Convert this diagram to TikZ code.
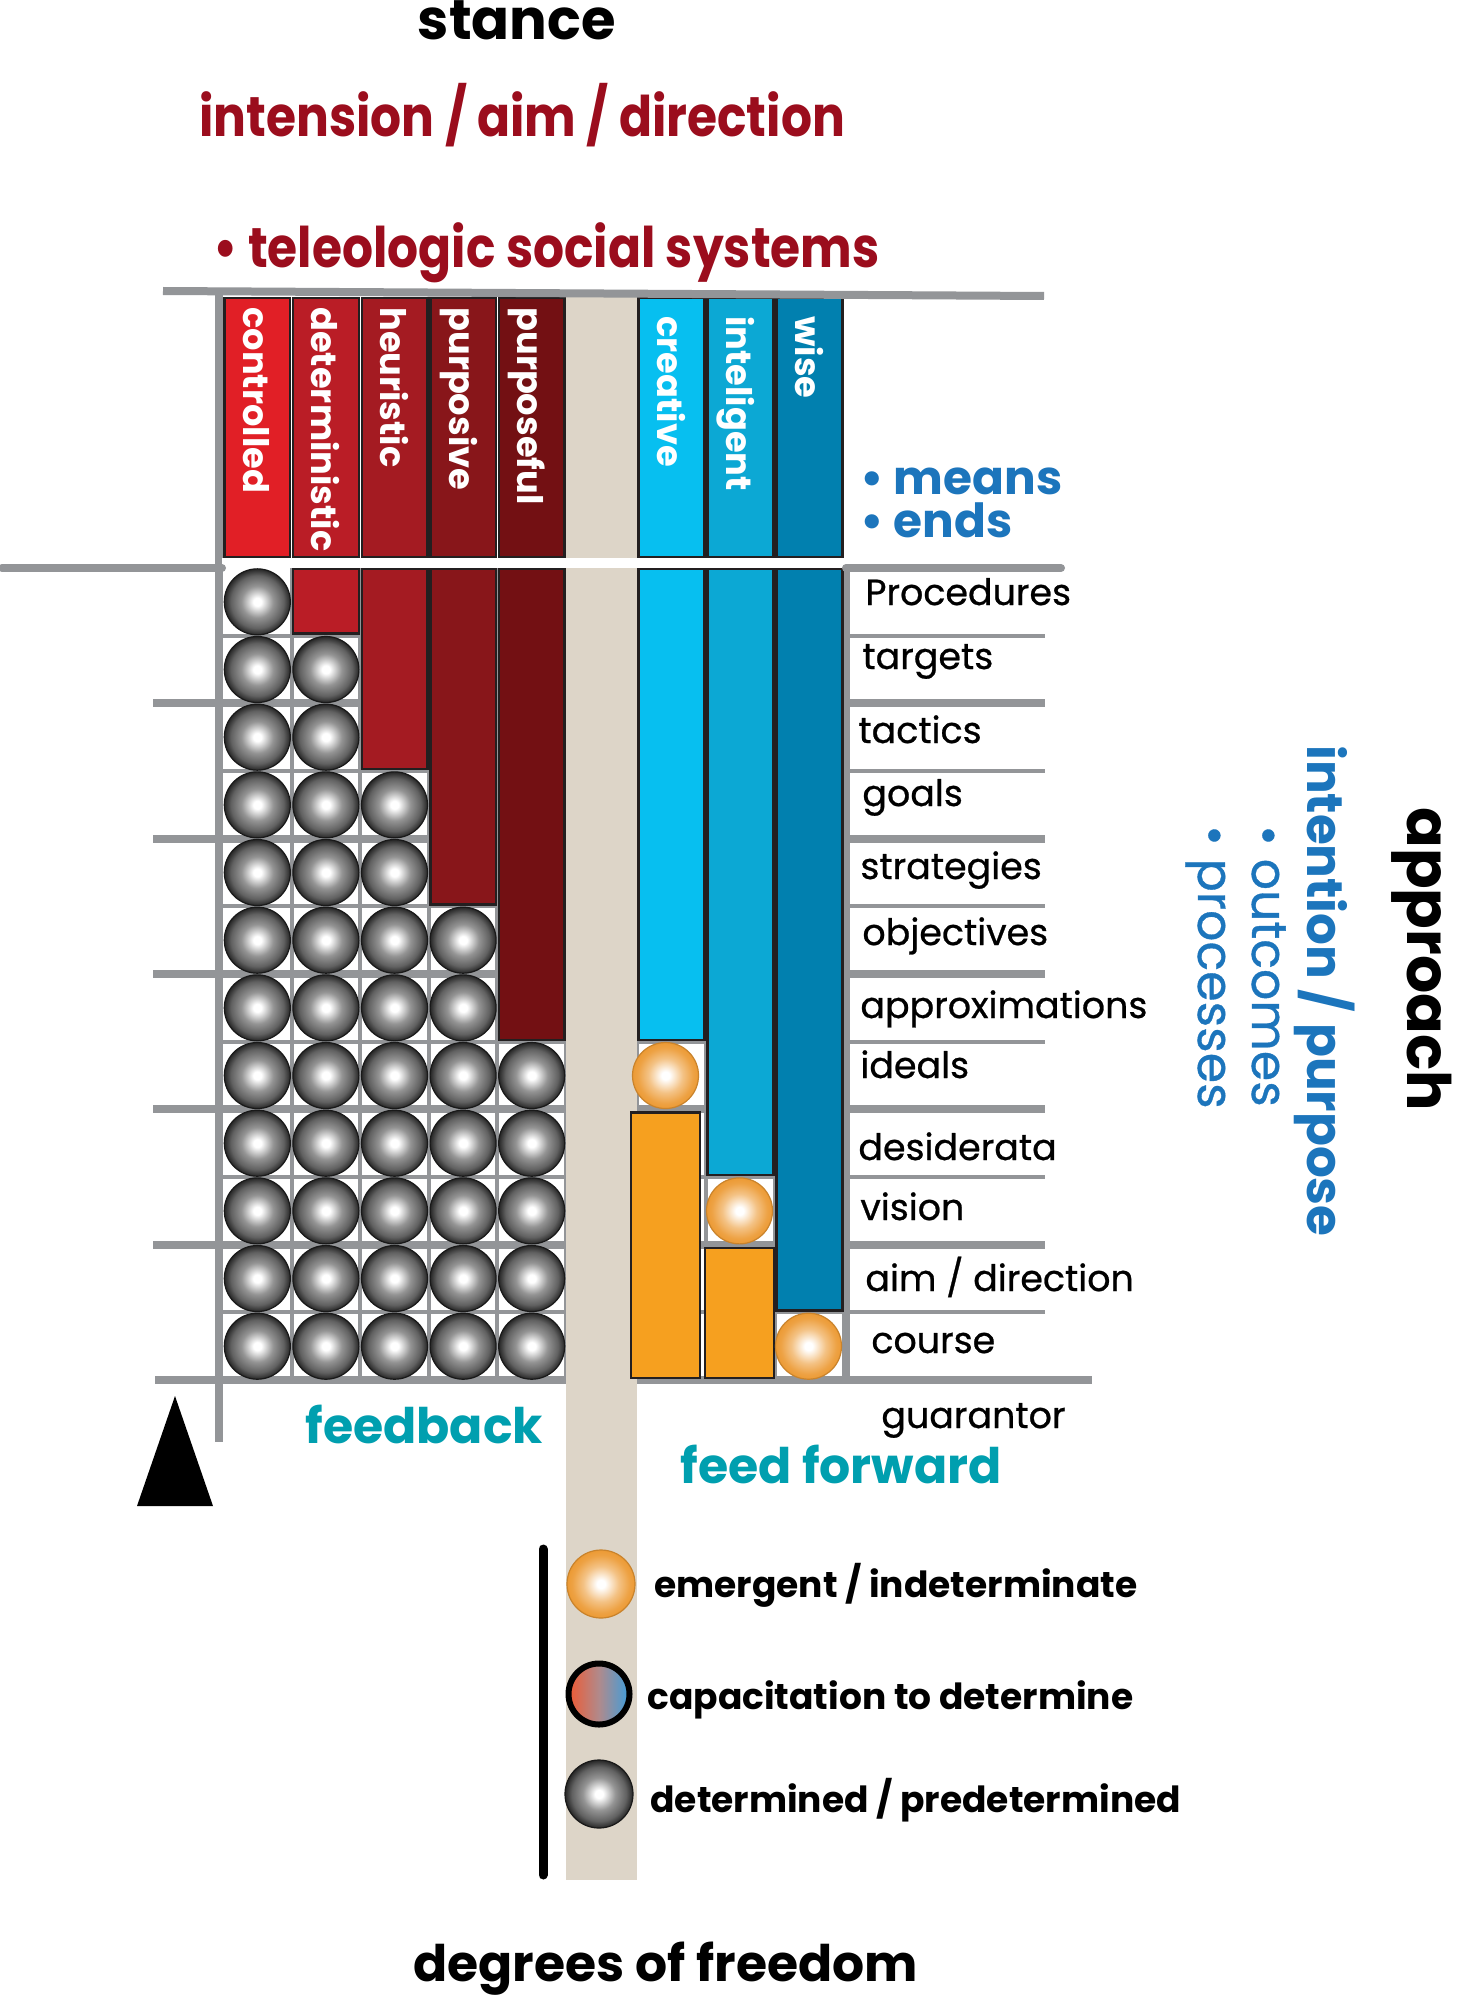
\documentclass[tikz,border=0pt]{standalone}
\usepackage{fontspec}
\setmainfont{Poppins}
\newfontfamily\condfont[FakeStretch=0.87]{Poppins}
\newfontfamily\medfont[FakeBold=0.7]{Poppins}
\usetikzlibrary{positioning}

\definecolor{gridgray}{HTML}{939598}
\definecolor{barline}{HTML}{231F20}
\definecolor{beige}{HTML}{DDD5C8}
\definecolor{redA}{HTML}{E11F26}
\definecolor{redB}{HTML}{BA1D26}
\definecolor{redC}{HTML}{A41B22}
\definecolor{redD}{HTML}{88161A}
\definecolor{redE}{HTML}{731013}
\definecolor{blueA}{HTML}{07BFF0}
\definecolor{blueB}{HTML}{0CA8D4}
\definecolor{blueC}{HTML}{0180AF}
\definecolor{barorange}{HTML}{F6A01F}
\definecolor{ballorange}{HTML}{EC9A34}
\definecolor{titlered}{HTML}{9B0D1D}
\definecolor{fbteal}{HTML}{009FAF}
\definecolor{textblue}{HTML}{1C75BC}
\definecolor{capred}{HTML}{EF5A33}
\definecolor{capmid}{HTML}{B08A8C}
\definecolor{capblue}{HTML}{3D9EDC}

\pgfdeclareradialshading{greyshade}{\pgfpointorigin}{color(0bp)=(white); color(3bp)=(white); color(12bp)=(black!42); color(20bp)=(black!62); color(25bp)=(black!85); color(50bp)=(black!85)}
\pgfdeclareradialshading{orangeshade}{\pgfpointorigin}{color(0bp)=(white); color(3bp)=(white); color(13bp)=(ballorange!60); color(21bp)=(ballorange!92); color(25bp)=(ballorange); color(50bp)=(ballorange)}
\pgfdeclarehorizontalshading{capshade}{100bp}{color(0bp)=(capred); color(25bp)=(capred); color(50bp)=(capmid); color(75bp)=(capblue); color(100bp)=(capblue)}

\newcommand{\fsz}[1]{\fontsize{#1}{#1}\selectfont}

\tikzset{
  gridthin/.style={draw=gridgray, line width=2pt},
  gridthick/.style={draw=gridgray, line width=4pt},
  barbox/.style={draw=barline, line width=1.2pt},
  barlabel/.style={text=white, rotate=-90, anchor=base west, inner sep=0pt, font=\bfseries\fsz{17.6}},
  ball/.style={circle, inner sep=0pt, minimum size=33pt, draw=#1, line width=0.6pt},
  greyball/.style={ball=black!90, shading=greyshade},
  orangeball/.style={ball=ballorange!85!black, shading=orangeshade},
  rowlabel/.style={anchor=base west, inner sep=0pt, font=\medfont\fsz{18.2}},
  headline/.style={anchor=base west, inner sep=0pt, font=\condfont\bfseries\fsz{28}},
  plain/.style={anchor=base west, inner sep=0pt},
  sidetext/.style={anchor=base west, inner sep=0pt, rotate=-90},
}

\begin{document}
\begin{tikzpicture}[x=0.5pt, y=-0.5pt]
  \useasboundingbox[fill=white] (0,0) rectangle (1456,1995);

  % grid of rows and columns
  \foreach \k in {1,...,11} {
    \pgfmathsetmacro{\yk}{568+\k*67.67}
    \ifodd\k\relax
      \draw[gridthin] (222,\yk) -- (1045,\yk);
    \else
      \draw[gridthick] (153,\yk) -- (1045,\yk);
    \fi
  }
  \draw[gridthick] (155,1380) -- (1092,1380);
  \foreach \x in {291.6,360.2,428.8,497.4,566,637,706,775}
    \draw[gridthin] (\x,568) -- (\x,1380);
  \draw[gridthick] (846,568) -- (846,1380);
  \draw[gridthick] (219,291) -- (219,1442);

  % degrees of freedom strip
  \fill[beige] (566,297) rectangle (637,1880);

  % determined side
  \foreach \lbl/\col [count=\i] in {controlled/redA, deterministic/redB, heuristic/redC, purposive/redD, purposeful/redE} {
    \pgfmathsetmacro{\xl}{223+(\i-1)*68.6}
    \pgfmathsetmacro{\xm}{\xl+34.3}
    \pgfmathtruncatemacro{\nbar}{max(0,2*\i-3)}
    \draw[barbox, fill=\col] (\xl+1.5,298) rectangle (\xl+67.1,557);
    \node[barlabel] (top-\i) at (\xm-14,307) {\lbl};
    \ifnum\nbar>0\relax
      \draw[barbox, fill=\col] (\xl+1.5,569) rectangle (\xl+67.1,{568+\nbar*67.67-2});
    \fi
    \pgfmathtruncatemacro{\first}{\nbar+1}
    \foreach \r in {\first,...,12}
      \node[greyball] (d-\i-\r) at (\xm,{568+(\r-0.5)*67.67}) {};
  }

  % emergent side
  \foreach \lbl/\col [count=\i] in {creative/blueA, inteligent/blueB, wise/blueC} {
    \pgfmathsetmacro{\xl}{637+(\i-1)*69}
    \pgfmathsetmacro{\xm}{\xl+34.5}
    \pgfmathtruncatemacro{\nbar}{2*\i+5}
    \pgfmathsetmacro{\dx}{\i==1 ? -6 : -1}
    \draw[barbox, fill=\col] (\xl+1.5,298) rectangle (\xl+67.5,557);
    \node[barlabel] (top-b\i) at (\xm-14,316) {\lbl};
    \draw[barbox, fill=\col] (\xl+1.5,569) rectangle (\xl+67.5,{568+\nbar*67.67-2});
    \node[orangeball] (e-\i) at (\xm+\dx,{568+(\nbar+0.5)*67.67}) {};
    \ifnum\nbar<11\relax
      \draw[barbox, fill=barorange] (\xl+\dx,{568+(\nbar+1)*67.67+3}) rectangle (\xl+\dx+69,1378);
    \fi
  }

  % separators
  \fill[white] (222,558) rectangle (846,567.5);
  \draw[gridthick, line cap=round] (2,568) -- (222,568);
  \draw[gridthick, line cap=round] (846,568) -- (1061,568);
  \draw[gridthick] (163,291) -- (1044,296);
  \fill (137,1506) -- (175,1396) -- (213,1506) -- cycle;

  % headings
  \node[anchor=base, inner sep=0pt, font=\bfseries\fsz{28}] (stance) at (517,40) {stance};
  \node[headline, text=titlered] (intent) at (199,137) {intension / aim / direction};
  \node[headline, text=titlered] (teleo) at (213,268) {\textbullet\ teleologic social systems};
  \node[plain, text=textblue, font=\bfseries\fsz{23.5}] (means) at (860,494) {\textbullet\ means};
  \node[plain, text=textblue, font=\bfseries\fsz{23.5}] (ends) at (860,537) {\textbullet\ ends};

  % row labels
  \foreach \lbl/\xb/\yb [count=\r] in {Procedures/865/605, targets/862/669, tactics/858/743, goals/862/806, strategies/860/879, objectives/862/945, approximations/860/1018, ideals/860/1078, desiderata/858/1160, vision/860/1220, {aim / direction}/865/1291, course/871/1353}
    \node[rowlabel] (row-\r) at (\xb,\yb) {\lbl};
  \node[rowlabel] (guar) at (881,1428) {guarantor};
  \node[plain, text=fbteal, font=\bfseries\fsz{24.5}] (fb) at (305,1443) {feedback};
  \node[plain, text=fbteal, font=\bfseries\fsz{24.5}] (ff) at (680,1483) {feed forward};

  % approach
  \node[sidetext, font=\bfseries\fsz{30}] (approach) at (1407,807) {approach};
  \node[sidetext, text=textblue, font=\bfseries\fsz{25}] (intpur) at (1307,745) {intention / purpose};
  \node[sidetext, text=textblue, font=\medfont\fsz{24.5}] (outc) at (1252,825) {\textbullet\ outcomes};
  \node[sidetext, text=textblue, font=\medfont\fsz{24.5}] (proc) at (1198,825) {\textbullet\ processes};

  % legend
  \draw[line width=4.5pt, line cap=round] (543,1549) -- (543,1875);
  \node[orangeball, minimum size=34pt] (leg-em) at (601,1584) {};
  \node[ball=black, line width=3pt, shading=capshade, minimum size=30.5pt] (leg-cap) at (599,1694) {};
  \node[greyball, minimum size=34pt] (leg-det) at (599,1794) {};
  \node[plain, font=\bfseries\fsz{18}] (t-em) at (654,1597) {emergent / indeterminate};
  \node[plain, font=\bfseries\fsz{18}] (t-cap) at (647,1709) {capacitation to determine};
  \node[plain, font=\bfseries\fsz{18}] (t-det) at (650,1812) {determined / predetermined};

  \node[plain, font=\bfseries\fsz{25.2}] (dof) at (413,1981) {degrees of freedom};
\end{tikzpicture}
\end{document}
